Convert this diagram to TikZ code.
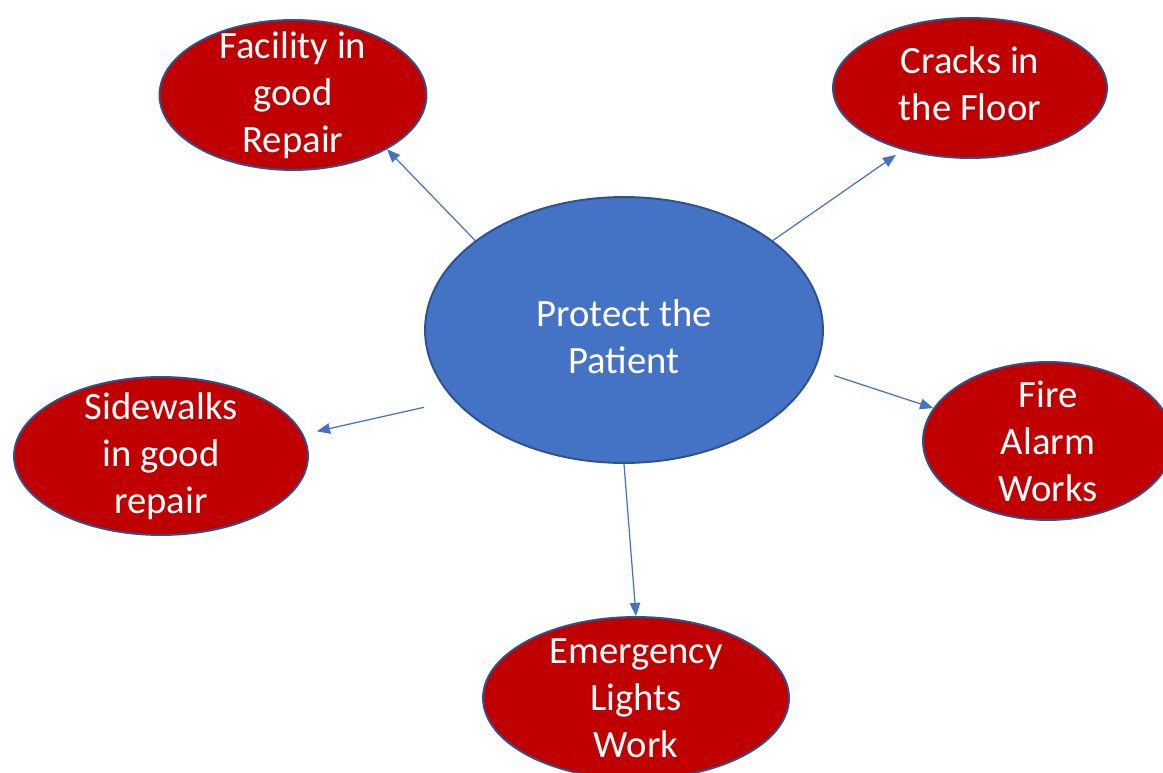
\documentclass[tikz,border=0pt]{standalone}
\usepackage{fontspec}
\setmainfont{Carlito}
\usetikzlibrary{shapes.geometric,arrows.meta}
\definecolor{leafred}{RGB}{192,0,0}
\definecolor{hubblue}{RGB}{68,114,196}
\definecolor{rimblue}{RGB}{47,82,143}
\tikzstyle{topic} = [ellipse, draw=rimblue, line width=1.1pt, fill=leafred, inner sep=0pt]
\tikzstyle{hub} = [topic, fill=hubblue]
\tikzstyle{caption} = [text=white, align=center, inner sep=0pt, font=\fontsize{22}{26.7}\selectfont]
\tikzstyle{link} = [draw, hubblue, line width=0.7pt, -{Triangle[length=7.5pt,width=6pt]}]
\begin{document}
\begin{tikzpicture}[x=0.02cm, y=-0.02cm]
       \useasboundingbox (0,0) rectangle (1163,773);
       \foreach \pos/\name/\style/\ew/\eh/\dy/\txt in {{(624,330)/patient/hub/7.96/5.32/-4/{Protect the\\Patient}}, {(293,95)/facility/topic/5.34/3.0/0/{Facility in\\good\\Repair}}, {(970,88)/cracks/topic/5.48/2.8/2.3/{Cracks in\\the Floor}}, {(161,456)/sidewalks/topic/5.88/3.16/0/{Sidewalks\\in good\\repair}}, {(1048,441)/fire/topic/5.0/3.16/0/{Fire\\Alarm\\Works}}, {(636,698)/emergency/topic/6.12/3.24/0/{Emergency\\Lights\\Work}}} {
           \node[\style, minimum width=\ew cm, minimum height=\eh cm] (\name) at \pos {};
           \node[caption, yshift=\dy pt] (\name-text) at (\name) {\txt};
       }
       \foreach \source/\sink/\sdx/\sdy/\tdx/\tdy in {patient.149/facility.330/0/0/0/0, patient.31/cracks.219/0/0/0/-4, patient.west/sidewalks.east/0/-44/4.5/14, patient.east/fire.164/6/-26/0/0, patient.south/emergency.north/0/0/0/0} {
           \path[link] ([shift={(\sdx pt,\sdy pt)}]\source) -- ([shift={(\tdx pt,\tdy pt)}]\sink);
       }
\end{tikzpicture}
\end{document}
